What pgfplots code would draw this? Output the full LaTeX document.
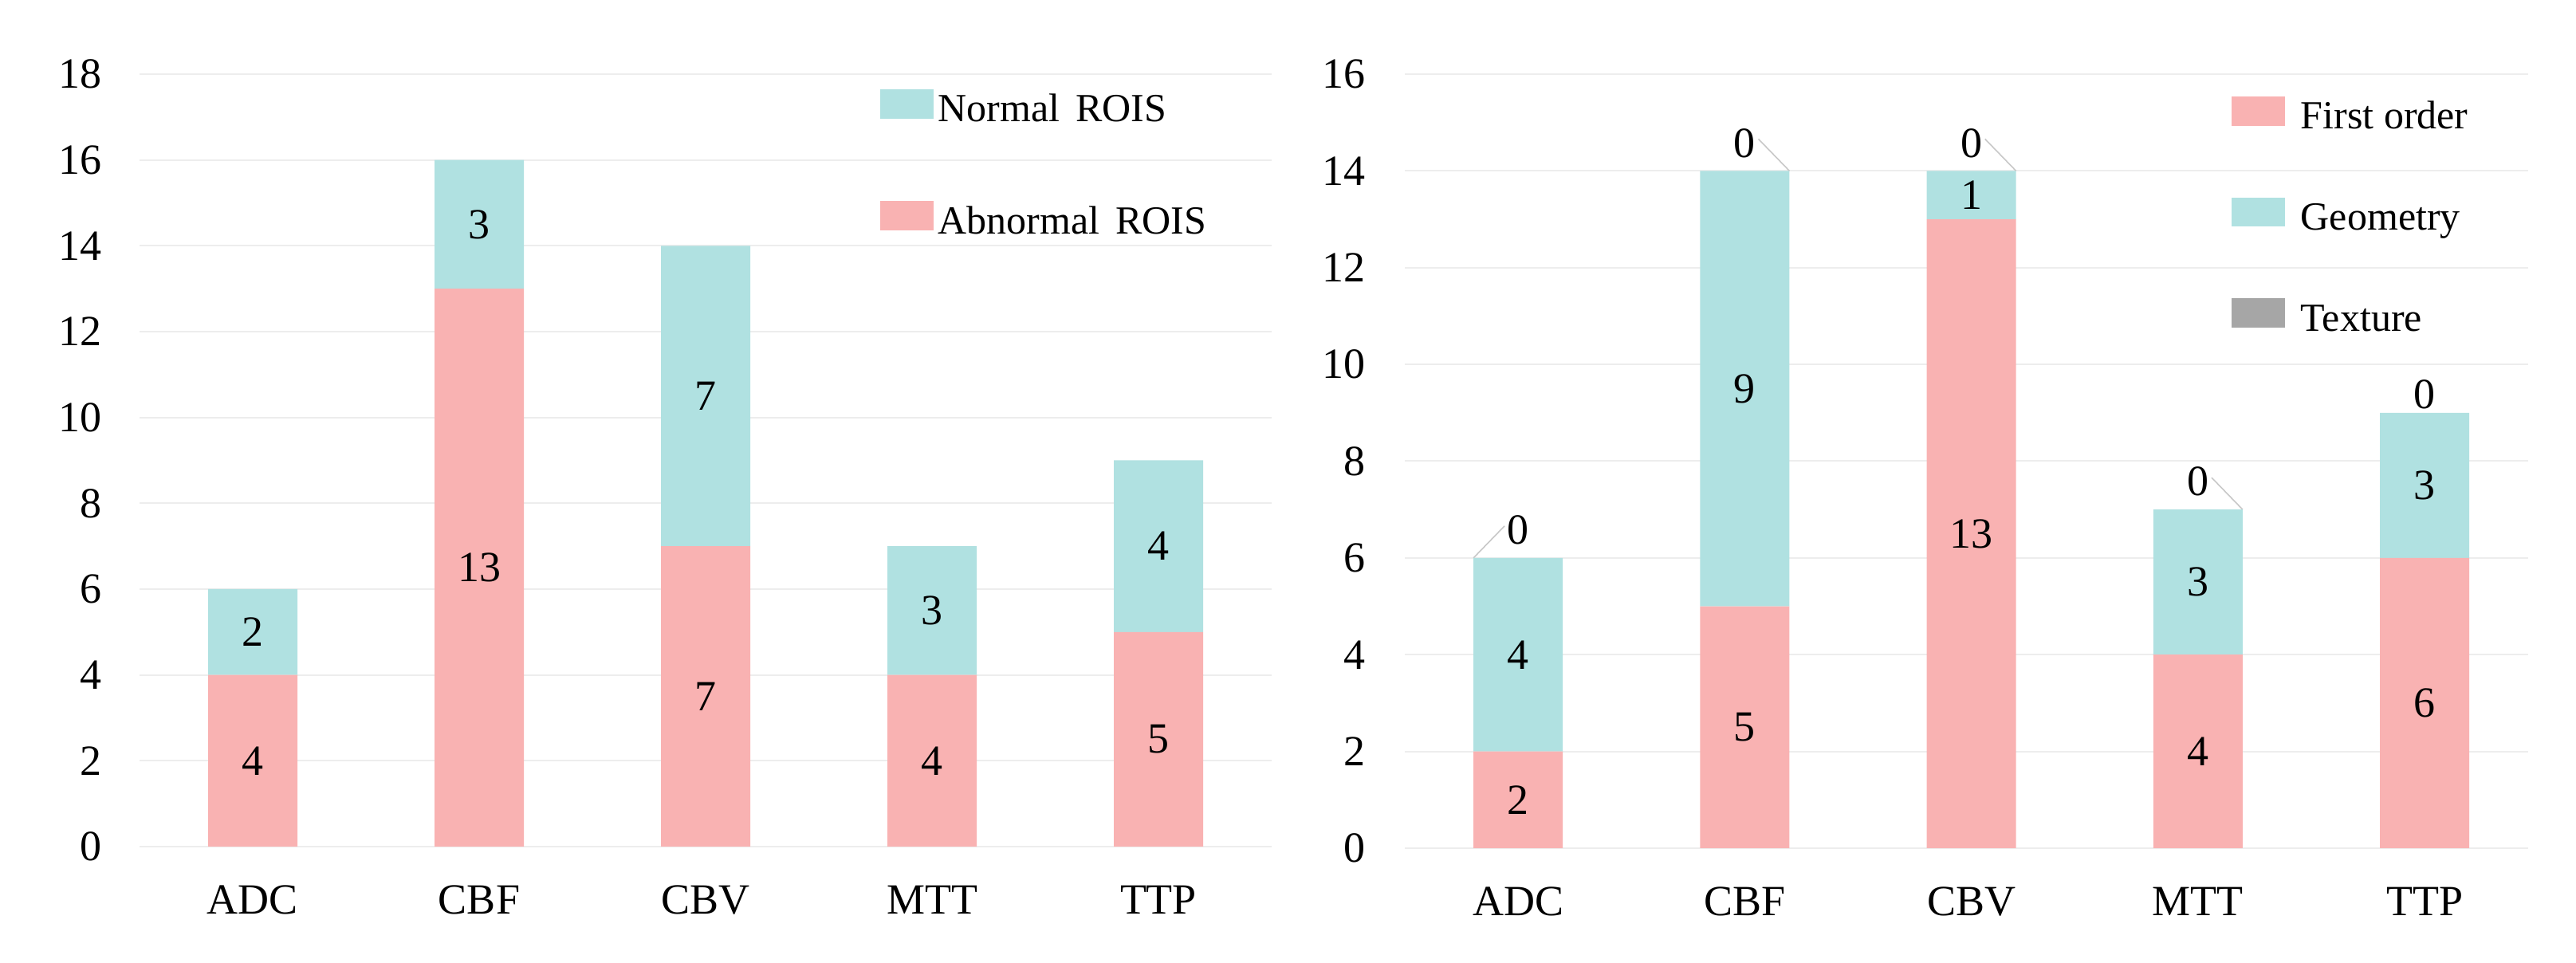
\documentclass[border=0pt]{standalone}
\usepackage{fontspec}
\setmainfont{Liberation Serif}
\usepackage{pgfplots}
\pgfplotsset{compat=1.18}

\definecolor{roipink}{HTML}{F9B2B2}
\definecolor{roicyan}{HTML}{B0E1E1}
\definecolor{roigrey}{HTML}{A6A6A6}
\definecolor{gridgrey}{HTML}{EDEDED}
\definecolor{leadergrey}{HTML}{C8C8C8}

\pgfplotsset{
  roibars/.style={
    scale only axis,
    ybar stacked,
    bar width=28pt,
    xmin=-0.5, ymin=0,
    xtick={0,1,2,3,4},
    xticklabels={ADC,CBF,CBV,MTT,TTP},
    ytick distance=2,
    axis line style={draw=none},
    major tick style={draw=none},
    ymajorgrids,
    grid style={gridgrey, line width=0.5pt},
    tick label style={font=\fontsize{13.5}{16}\selectfont, inner sep=0pt},
    /pgf/number format/assume math mode=true,
    x tick label style={anchor=north, yshift=-12pt},
    legend image code/.code={\fill[##1] (0pt,-3.4pt) rectangle (16.75pt,5.8pt);},
    legend cell align=left,
  },
  % same frame, no axis: carries the value labels
  labels/.style={
    scale only axis, hide axis, clip=false,
    xmin=-0.5, ymin=0,
  },
  vals/.style={
    draw=none, mark=none,
    point meta=explicit symbolic,
    nodes near coords,
    every node near coord/.style={
      font=\fontsize{13.5}{16}\selectfont, anchor=center, yshift=#1},
  },
  vals/.default=0pt,
}

\begin{document}
\begin{tikzpicture}
\useasboundingbox (0,0) rectangle (807.75pt,302pt);

% left: ROIs
\begin{axis}[roibars,
    at={(43.75pt,36.5pt)}, anchor=south west,
    width=355pt, height=242.25pt,
    xmax=4.5, ymax=18,
    y tick label style={anchor=east, xshift=-11.75pt},
    reverse legend,
    legend style={draw=none, fill=none, inner sep=0pt,
      at={(rel axis cs:0.6535,1)}, anchor=north west, yshift=-4.5pt,
      font=\fontsize{12.5}{15}\selectfont,
      row sep=24.75pt, column sep=1.5pt,
      nodes={inner sep=0pt, text height=9pt, text depth=0pt}},
  ]
  \addplot[draw=none, fill=roipink] coordinates {
    (0,4) (1,13) (2,7) (3,4) (4,5)
  };
  \addlegendentry{Abnormal\hspace{0.4em}ROIS}
  \addplot[draw=none, fill=roicyan] coordinates {
    (0,2) (1,3) (2,7) (3,3) (4,4)
  };
  \addlegendentry{Normal\hspace{0.4em}ROIS}
\end{axis}
\begin{axis}[labels,
    at={(43.75pt,36.5pt)}, anchor=south west,
    width=355pt, height=242.25pt,
    xmax=4.5, ymax=18,
  ]
  % label at the middle of each segment
  \addplot[vals] coordinates {
    (0,2) [4] (1,6.5) [13] (2,3.5) [7] (3,2) [4] (4,2.5) [5]
  };
  \addplot[vals] coordinates {
    (0,5) [2] (1,14.5) [3] (2,10.5) [7] (3,5.5) [3] (4,7) [4]
  };
\end{axis}

% right: feature classes
\begin{axis}[roibars,
    at={(440.5pt,36pt)}, anchor=south west,
    width=352.25pt, height=242.75pt,
    xmax=4.457, ymax=16,
    y tick label style={anchor=east, xshift=-12.25pt},
    legend style={draw=none, fill=none, inner sep=0pt,
      at={(rel axis cs:0.7353,1)}, anchor=north west, yshift=-6.75pt,
      font=\fontsize{12.5}{15}\selectfont,
      row sep=21.4pt, column sep=5pt,
      nodes={inner sep=0pt, text height=9pt, text depth=0pt}},
  ]
  \addplot[draw=none, fill=roipink] coordinates {
    (0,2) (1,5) (2,13) (3,4) (4,6)
  };
  \addlegendentry{First order}
  \addplot[draw=none, fill=roicyan] coordinates {
    (0,4) (1,9) (2,1) (3,3) (4,3)
  };
  \addlegendentry{Geometry}
  \addplot[draw=none, fill=roigrey] coordinates {
    (0,0) (1,0) (2,0) (3,0) (4,0)
  };
  \addlegendentry{Texture}
  % leader lines to the zero labels
  \draw[leadergrey, line width=0.4pt] (axis cs:-0.197,6) -- (axis cs:-0.06,6.66);
  \draw[leadergrey, line width=0.4pt] (axis cs:1.197,14) -- (axis cs:1.06,14.66);
  \draw[leadergrey, line width=0.4pt] (axis cs:2.197,14) -- (axis cs:2.06,14.66);
  \draw[leadergrey, line width=0.4pt] (axis cs:3.197,7) -- (axis cs:3.06,7.66);
\end{axis}
\begin{axis}[labels,
    at={(440.5pt,36pt)}, anchor=south west,
    width=352.25pt, height=242.75pt,
    xmax=4.457, ymax=16,
  ]
  \addplot[vals] coordinates {
    (0,1) [2] (1,2.5) [5] (2,6.5) [13] (3,2) [4] (4,3) [6]
  };
  \addplot[vals] coordinates {
    (0,4) [4] (1,9.5) [9] (2,13.5) [1] (3,5.5) [3] (4,7.5) [3]
  };
  % Texture (all zero), above the top of each stack
  \addplot[vals=8.75pt] coordinates {
    (0,6) [0] (1,14) [0] (2,14) [0] (3,7) [0]
  };
  \addplot[vals=5.75pt] coordinates {
    (4,9) [0]
  };
\end{axis}
\end{tikzpicture}
\end{document}
